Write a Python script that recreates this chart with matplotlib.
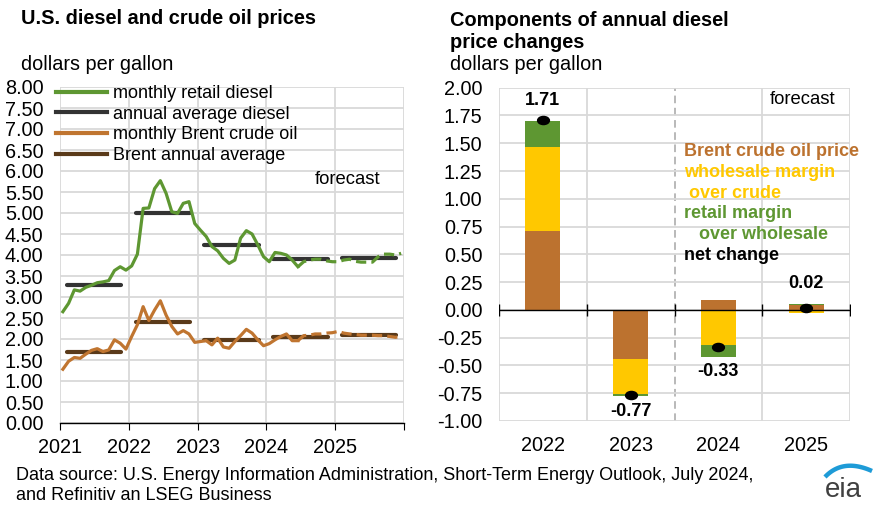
import matplotlib
matplotlib.use("Agg")
import matplotlib.pyplot as plt
import matplotlib.path as mpath
from matplotlib.lines import Line2D
from matplotlib.ticker import FuncFormatter, MultipleLocator
import numpy as np

plt.rcParams["font.family"] = ["Liberation Sans", "DejaVu Sans"]

# ---- data: monthly prices, Jan 2021 - Dec 2025 (dollars per gallon)
diesel = [2.65, 2.85, 3.17, 3.14, 3.23, 3.28, 3.34, 3.36, 3.39, 3.63, 3.72, 3.64,
          3.74, 4.02, 5.11, 5.12, 5.58, 5.77, 5.47, 5.03, 4.99, 5.23, 5.27, 4.75,
          4.59, 4.44, 4.20, 4.10, 3.92, 3.80, 3.88, 4.40, 4.58, 4.50, 4.24, 3.96,
          3.84, 4.06, 4.04, 4.00, 3.88, 3.72, 3.84, 3.88, 3.90, 3.90, 3.86, 3.84,
          3.84, 3.88, 3.90, 3.85, 3.83, 3.83, 3.83, 3.96, 4.02, 4.02, 4.00, 4.04]
brent = [1.28, 1.47, 1.56, 1.54, 1.64, 1.73, 1.77, 1.70, 1.74, 1.98, 1.90, 1.76,
         2.06, 2.34, 2.77, 2.44, 2.69, 2.91, 2.57, 2.30, 2.12, 2.20, 2.12, 1.92,
         1.94, 1.96, 1.86, 2.02, 1.81, 1.78, 1.94, 2.08, 2.23, 2.14, 1.98, 1.84,
         1.89, 1.98, 2.06, 2.12, 1.96, 1.96, 2.08, 2.09, 2.12, 2.12, 2.14, 2.15,
         2.18, 2.14, 2.12, 2.11, 2.09, 2.09, 2.09, 2.08, 2.08, 2.06, 2.04, 2.06]
n_history = 42  # months of history (through Jun 2024), rest is forecast

years = [2021, 2022, 2023, 2024, 2025]
diesel_annual = [3.29, 5.00, 4.23, 3.90, 3.92]
brent_annual = [1.69, 2.41, 1.97, 2.05, 2.10]

# ---- data: components of annual diesel price change
change_years = ["2022", "2023", "2024", "2025"]
crude_part = [0.71, -0.44, 0.09, 0.04]
wholesale_part = [0.76, -0.315, -0.315, -0.03]
retail_part = [0.23, -0.02, -0.105, 0.01]
net_change = [1.71, -0.77, -0.33, 0.02]

GREEN = "#5E9732"
DARK = "#333333"
ORANGE = "#C07530"
BROWN = "#5A3A1A"
BAR_BROWN = "#BC722F"
YELLOW = "#FFC800"
GRID = "#D9D9D9"
FS = 14.3

W, H = 874, 526
fig = plt.figure(figsize=(W / 100, H / 100), dpi=100)


def px(x, y):
    return x / W, 1 - y / H


# ================= left chart
ax = fig.add_axes([60 / W, 1 - 423 / H, 344 / W, 336 / H])
months = np.arange(len(diesel))
xm = 2021 + (months + 0.5) / 12.0

for y, d, b in zip(years, diesel_annual, brent_annual):
    ax.plot([y + 0.1, y + 0.89], [d, d], color=DARK, lw=3.0, solid_capstyle="round", zorder=3)
    ax.plot([y + 0.1, y + 0.89], [b, b], color=BROWN, lw=3.0, solid_capstyle="round", zorder=3)

h = n_history
ax.plot(xm[:h], diesel[:h], color=GREEN, lw=2.3, zorder=4, solid_joinstyle="round")
ax.plot(xm[h - 1:], diesel[h - 1:], color=GREEN, lw=2.3, zorder=4, dashes=(3.2, 1.6))
ax.plot(xm[:h], brent[:h], color=ORANGE, lw=2.3, zorder=4, solid_joinstyle="round")
ax.plot(xm[h - 1:], brent[h - 1:], color=ORANGE, lw=2.3, zorder=4, dashes=(3.2, 1.6))

ax.set_xlim(2021, 2026)
ax.set_ylim(0, 8)
ax.yaxis.set_major_locator(MultipleLocator(0.5))
ax.yaxis.set_major_formatter(FuncFormatter(lambda v, p: f"{v:.2f}"))
ax.set_xticks([2021, 2022, 2023, 2024, 2025, 2026])
ax.set_xticklabels(["2021", "2022", "2023", "2024", "2025", ""])
ax.grid(True, color=GRID, lw=1.3, zorder=0)
ax.set_axisbelow(True)
for s in ["left", "top", "right"]:
    ax.spines[s].set_visible(False)
ax.spines["bottom"].set_color("black")
ax.spines["bottom"].set_linewidth(1.0)
ax.tick_params(axis="y", length=0, labelsize=FS, pad=12)
ax.tick_params(axis="x", direction="out", length=5, color="black", labelsize=FS, pad=6)
ax.text(2024.71, 5.79, "forecast", fontsize=13.3, va="center", ha="left")

handles = [Line2D([], [], color=GREEN, lw=3.0),
           Line2D([], [], color=DARK, lw=3.0),
           Line2D([], [], color=ORANGE, lw=3.0),
           Line2D([], [], color=BROWN, lw=3.0)]
labels = ["monthly retail diesel", "annual average diesel",
          "monthly Brent crude oil", "Brent annual average"]
fig.legend(handles, labels, loc="upper left", bbox_to_anchor=px(56, 85),
           frameon=False, fontsize=13, handlelength=2.85, handletextpad=0.3,
           labelspacing=0.2, borderaxespad=0, borderpad=0)

# ================= right chart
bx = fig.add_axes([499 / W, 1 - 421 / H, 351 / W, 333.3 / H])
xc = np.arange(len(change_years))
width = 0.4
pos_bottom = np.zeros(len(xc))
neg_bottom = np.zeros(len(xc))
for vals, col in [(crude_part, BAR_BROWN), (wholesale_part, YELLOW), (retail_part, GREEN)]:
    vals = np.array(vals)
    bottoms = np.where(vals >= 0, pos_bottom, neg_bottom)
    bx.bar(xc, vals, width=width, bottom=bottoms, color=col, zorder=3)
    pos_bottom = pos_bottom + np.where(vals >= 0, vals, 0)
    neg_bottom = neg_bottom + np.where(vals < 0, vals, 0)

circ = mpath.Path.unit_circle()
ell = mpath.Path(circ.vertices * [1.45, 1.0], circ.codes)
bx.plot(xc, net_change, ls="none", marker=ell, ms=8.5, color="black", zorder=5)

for i, v in enumerate(net_change):
    if v >= 0:
        ly = pos_bottom[i] + 0.185
    else:
        ly = neg_bottom[i] - 0.135
    bx.text(xc[i], ly, f"{v:.2f}", ha="center", va="center", fontsize=13, fontweight="bold")

bx.set_xlim(-0.5, 3.5)
bx.set_ylim(-1, 2)
bx.yaxis.set_major_locator(MultipleLocator(0.25))
bx.yaxis.set_major_formatter(FuncFormatter(lambda v, p: f"{v:.2f}"))
bx.set_xticks(xc)
bx.set_xticklabels(change_years)
bx.tick_params(axis="x", length=0, labelsize=FS, pad=11)
bx.tick_params(axis="y", length=0, labelsize=FS, pad=12)
bx.grid(True, axis="y", color=GRID, lw=1.3, zorder=0)
for xb in [-0.5, 0.5, 2.5, 3.5]:
    bx.axvline(xb, color=GRID, lw=1.3, zorder=0)
bx.axvline(1.5, color="#A6A6A6", lw=1.1, dashes=(5, 3), zorder=1)
for s in bx.spines.values():
    s.set_visible(False)
bx.axhline(0, color="black", lw=1.0, zorder=4)
bx.plot([-0.5, 0.5, 1.5, 2.5, 3.5], [0] * 5, ls="none", marker="|", ms=9, mew=1.0,
        color="black", zorder=4)
bx.text(2.58, 1.89, "forecast", fontsize=13.3, va="center", ha="left")

ann = [("Brent crude oil price", BAR_BROWN), ("wholesale margin", YELLOW),
       (" over crude", YELLOW), ("retail margin", GREEN),
       ("   over wholesale", GREEN), ("net change", "black")]
for k, (t, c) in enumerate(ann):
    fig.text(*px(684, 152 + 20.6 * k), t, color=c, fontsize=13,
             fontweight="bold", va="center", ha="left")

# ================= titles and notes
fig.text(*px(21, 19), "U.S. diesel and crude oil prices", fontsize=14.4,
         fontweight="bold", va="center")
fig.text(*px(21, 65), "dollars per gallon", fontsize=FS, va="center")
fig.text(*px(450, 20), "Components of annual diesel", fontsize=14.4,
         fontweight="bold", va="center")
fig.text(*px(450, 43), "price changes", fontsize=14.4, fontweight="bold", va="center")
fig.text(*px(450, 65), "dollars per gallon", fontsize=FS, va="center")
fig.text(*px(16, 476), "Data source: U.S. Energy Information Administration, "
         "Short-Term Energy Outlook, July 2024,", fontsize=13, va="center")
fig.text(*px(16, 495), "and Refinitiv an LSEG Business", fontsize=13, va="center")

# eia logo, drawn in pixel coordinates
lx = fig.add_axes([810 / W, 1 - 505 / H, 64 / W, 50 / H])
lx.set_xlim(810, 874)
lx.set_ylim(505, 455)
lx.axis("off")
lx.text(843, 490, "eia", fontsize=20, color="#404040", ha="center", va="center")
t = np.linspace(0, 1, 40)
sx = (1 - t) ** 2 * 825 + 2 * (1 - t) * t * 843 + t ** 2 * 872
sy = (1 - t) ** 2 * 477 + 2 * (1 - t) * t * 458 + t ** 2 * 471
lx.plot(sx, sy, color="#1E9BD7", lw=3.2, solid_capstyle="butt")

fig.savefig("out.png", dpi=100)
